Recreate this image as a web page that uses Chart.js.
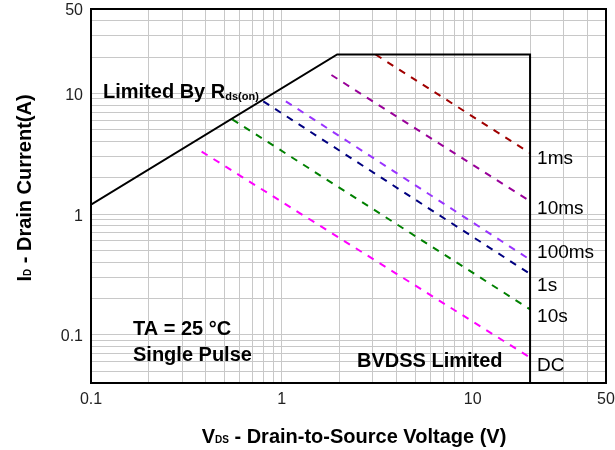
<!DOCTYPE html>
<html>
<head>
<meta charset="utf-8">
<script src="https://cdn.jsdelivr.net/npm/chart.js@4/dist/chart.umd.min.js"></script>
<style>
  body { margin: 0; background: #fff; }
  #wrap { width: 615px; height: 450px; }
</style>
</head>
<body>
<div id="wrap"><canvas id="soaChart"></canvas></div>
<script>
// safe operating area data
const pulseLabels = ['1ms', '10ms', '100ms', '1s', '10s', 'DC'];
const pulseColors = ['#a00000', '#990099', '#9933ff', '#000080', '#008000', '#ff00ff'];
const startV = [3.1, 1.82, 1.05, 0.8, 0.55, 0.38];
const startI = [21, 14.2, 8.6, 8.6, 6.1, 3.3];
const endV = [20, 20, 20, 20, 20, 20];
const endI = [3.2, 1.28, 0.42, 0.32, 0.163, 0.065];
const labelI = [2.9, 1.1, 0.48, 0.255, 0.142, 0.056];

// limit line: Rds(on) -> current limit -> BVDSS
const limitV = [0.1, 1.95, 20, 20];
const limitI = [1.2, 21, 21, 0.04];

const xTicks = [0.1, 0.2, 0.3, 0.4, 0.5, 0.6, 0.7, 0.8, 0.9, 1, 2, 3, 4, 5, 6, 7, 8, 9, 10, 20, 30, 40, 50];
const yTicks = [0.04, 0.05, 0.06, 0.07, 0.08, 0.09, 0.1, 0.2, 0.3, 0.4, 0.5, 0.6, 0.7, 0.8, 0.9,
                1, 2, 3, 4, 5, 6, 7, 8, 9, 10, 20, 30, 40, 50];
const xLabels = ['0.1', '1', '10', '50'];
const yLabels = ['0.1', '1', '10', '50'];

const FONT = "'Liberation Sans', Arial, sans-serif";

const datasets = [{
    data: limitV.map((v, i) => ({ x: v, y: limitI[i] })),
    borderColor: '#000',
    borderWidth: 2,
    pointRadius: 0
}];
pulseLabels.forEach((name, i) => {
    datasets.push({
        label: name,
        data: [{ x: startV[i], y: startI[i] }, { x: endV[i], y: endI[i] }],
        borderColor: pulseColors[i],
        borderWidth: 2,
        borderDash: [7, 7],
        pointRadius: 0
    });
});

// draws text runs with optional subscripts
function drawRuns(ctx, runs, x, y) {
    let cx = x;
    runs.forEach(r => {
        ctx.font = r.font;
        ctx.fillText(r.text, cx, y + (r.dy || 0));
        cx += ctx.measureText(r.text).width;
    });
}
function runsWidth(ctx, runs) {
    let w = 0;
    runs.forEach(r => { ctx.font = r.font; w += ctx.measureText(r.text).width; });
    return w;
}

const decorations = {
    id: 'decorations',
    afterDatasetsDraw(chart) {
        const ctx = chart.ctx;
        const a = chart.chartArea;
        const xs = chart.scales.x, ys = chart.scales.y;
        ctx.save();
        // box around plot
        ctx.strokeStyle = '#000';
        ctx.lineWidth = 2;
        ctx.strokeRect(a.left, a.top, a.right - a.left, a.bottom - a.top);

        ctx.fillStyle = '#000';
        ctx.textBaseline = 'alphabetic';
        ctx.textAlign = 'left';
        const bold = 'bold 20px ' + FONT;

        drawRuns(ctx, [
            { text: 'Limited By R', font: bold },
            { text: 'ds(on)', font: 'bold 11px ' + FONT, dy: 2 }
        ], 103, 98);

        ctx.font = bold;
        ctx.fillText('TA = 25 °C', 133, 335);
        ctx.fillText('Single Pulse', 133, 361);
        ctx.fillText('BVDSS Limited', 357, 367);

        // pulse labels right of the BVDSS line
        ctx.font = '19px ' + FONT;
        ctx.textBaseline = 'middle';
        pulseLabels.forEach((name, i) => {
            ctx.fillText(name, xs.getPixelForValue(20) + 7, ys.getPixelForValue(labelI[i]));
        });

        // axis titles
        ctx.textBaseline = 'alphabetic';
        const xRuns = [
            { text: 'V', font: bold },
            { text: 'DS', font: 'bold 10px ' + FONT },
            { text: ' - Drain-to-Source Voltage (V)', font: bold }
        ];
        drawRuns(ctx, xRuns, 354 - runsWidth(ctx, xRuns) / 2, 443);

        const yRuns = [
            { text: 'I', font: bold },
            { text: 'D', font: 'bold 10px ' + FONT },
            { text: ' - Drain Current(A)', font: bold }
        ];
        ctx.translate(31, 188);
        ctx.rotate(-Math.PI / 2);
        drawRuns(ctx, yRuns, -runsWidth(ctx, yRuns) / 2, 0);
        ctx.restore();
    }
};

const ctxSoa = document.getElementById('soaChart').getContext('2d');
const soaChart = new Chart(ctxSoa, {
    type: 'line',
    data: { datasets: datasets },
    options: {
        responsive: true,
        maintainAspectRatio: false,
        animation: false,
        layout: { padding: { top: 9, right: 9, left: 0, bottom: 0 } },
        plugins: { legend: { display: false }, tooltip: { enabled: false } },
        elements: { line: { tension: 0, fill: false } },
        scales: {
            x: {
                type: 'logarithmic',
                min: 0.1,
                max: 50,
                afterBuildTicks: s => { s.ticks = xTicks.map(v => ({ value: v })); },
                afterFit: s => {
                    s.height = 67;
                    s.paddingLeft = 0;
                    s.paddingRight = 0;
                },
                ticks: {
                    autoSkip: false,
                    maxRotation: 0,
                    padding: 7,
                    color: '#222',
                    font: { family: FONT, size: 16 },
                    callback: v => xLabels.includes(String(v)) ? String(v) : ''
                },
                grid: { color: '#c8c8c8', lineWidth: 1, drawTicks: false },
                border: { color: '#000', width: 2 }
            },
            y: {
                type: 'logarithmic',
                min: 0.04,
                max: 50,
                afterBuildTicks: s => { s.ticks = yTicks.map(v => ({ value: v })); },
                afterFit: s => {
                    s.width = 91;
                    s.paddingTop = 0;
                    s.paddingBottom = 0;
                },
                ticks: {
                    autoSkip: false,
                    padding: 8,
                    labelOffset: 2,
                    color: '#222',
                    font: { family: FONT, size: 16 },
                    callback: v => yLabels.includes(String(v)) ? String(v) : ''
                },
                grid: { color: '#c8c8c8', lineWidth: 1, drawTicks: false },
                border: { color: '#000', width: 2 }
            }
        }
    },
    plugins: [decorations]
});
</script>
</body>
</html>
